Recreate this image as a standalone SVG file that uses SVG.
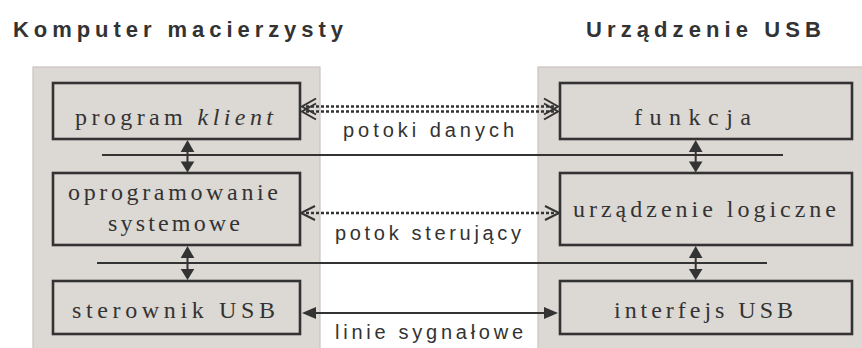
<svg xmlns="http://www.w3.org/2000/svg" width="862" height="348" viewBox="0 0 862 348">
  <style>
    .panel { fill: #dcd8d4; stroke: #cbc4c0; stroke-width: 1.2; }
    .box { fill: #dcd8d4; stroke: #333; stroke-width: 2.6; }
    .title { font-family: "Liberation Sans", Arial, sans-serif; font-weight: bold; font-size: 22px; fill: #333; }
    .lbl { font-family: "Liberation Sans", Arial, sans-serif; font-size: 20px; fill: #333; }
    .txt { font-family: "Liberation Serif", "Times New Roman", serif; font-size: 24px; fill: #333; }
    .bus { stroke: #333; stroke-width: 2; fill: none; }
    .dot { stroke: #333; stroke-width: 2.6; stroke-dasharray: 3 2; fill: none; }
    .chev { stroke: #333; stroke-width: 2; fill: none; }
    .solid { stroke: #333; stroke-width: 2; fill: none; }
    .head { fill: #333; }
  </style>

  <!-- host and device backgrounds -->
  <rect class="panel" x="33" y="67" width="287" height="290"/>
  <rect class="panel" x="538" y="67" width="330" height="290"/>

  <text class="title" x="13" y="37" textLength="330" lengthAdjust="spacing">Komputer macierzysty</text>
  <text class="title" x="586" y="37" textLength="235" lengthAdjust="spacing">Urządzenie USB</text>

  <!-- layer separators -->
  <g id="buses">
    <line class="bus" x1="102" y1="155" x2="783" y2="155"/>
    <line class="bus" x1="97" y1="263" x2="767" y2="263"/>
  </g>

  <!-- host side -->
  <g id="program-klient">
    <rect class="box" x="53" y="83" width="247" height="56"/>
    <text class="txt" x="75" y="125" textLength="198" lengthAdjust="spacing">program <tspan font-style="italic">klient</tspan></text>
  </g>
  <g id="oprogramowanie-systemowe">
    <rect class="box" x="53" y="173" width="247" height="72"/>
    <text class="txt" x="68" y="200" textLength="210" lengthAdjust="spacing">oprogramowanie</text>
    <text class="txt" x="108" y="231" textLength="132" lengthAdjust="spacing">systemowe</text>
  </g>
  <g id="sterownik-usb">
    <rect class="box" x="53" y="281" width="247" height="53"/>
    <text class="txt" x="72" y="318" textLength="203" lengthAdjust="spacing">sterownik USB</text>
  </g>

  <!-- device side -->
  <g id="funkcja">
    <rect class="box" x="560" y="83" width="292" height="56"/>
    <text class="txt" x="634" y="125" textLength="117" lengthAdjust="spacing">funkcja</text>
  </g>
  <g id="urzadzenie-logiczne">
    <rect class="box" x="560" y="173" width="292" height="72"/>
    <text class="txt" x="573" y="217" textLength="263" lengthAdjust="spacing">urządzenie logiczne</text>
  </g>
  <g id="interfejs-usb">
    <rect class="box" x="560" y="281" width="292" height="53"/>
    <text class="txt" x="614" y="318" textLength="179" lengthAdjust="spacing">interfejs USB</text>
  </g>

  <g id="connectors">
    <!-- data pipes (double dotted) -->
    <line class="dot" x1="306" y1="106.5" x2="556" y2="106.5"/>
    <line class="dot" x1="306" y1="111.5" x2="556" y2="111.5"/>
    <polyline class="chev" points="316,98.5 302,106.5 316,114.5"/>
    <polyline class="chev" points="316,103.5 302,111.5 316,119.5"/>
    <polyline class="chev" points="544,98.5 558,106.5 544,114.5"/>
    <polyline class="chev" points="544,103.5 558,111.5 544,119.5"/>

    <!-- control pipe -->
    <line class="dot" x1="306" y1="213" x2="556" y2="213"/>
    <polyline class="chev" points="315,206 301,213 315,220"/>
    <polyline class="chev" points="545,206 559,213 545,220"/>

    <!-- signal lines -->
    <line class="solid" x1="312" y1="313" x2="548" y2="313"/>
    <polygon class="head" points="302,313 316,307 316,319"/>
    <polygon class="head" points="558,313 544,307 544,319"/>

    <!-- vertical layer links -->
    <line class="solid" x1="187.5" y1="145" x2="187.5" y2="167"/>
    <polygon class="head" points="187.5,140 180.7,152 194.3,152"/>
    <polygon class="head" points="187.5,172.5 180.7,161.5 194.3,161.5"/>
    <line class="solid" x1="187.5" y1="250" x2="187.5" y2="275"/>
    <polygon class="head" points="187.5,246 180.7,258 194.3,258"/>
    <polygon class="head" points="187.5,280 180.7,269 194.3,269"/>

    <line class="solid" x1="695.7" y1="145" x2="695.7" y2="167"/>
    <polygon class="head" points="695.7,140 688.9,152 702.5,152"/>
    <polygon class="head" points="695.7,172.5 688.9,161.5 702.5,161.5"/>
    <line class="solid" x1="695.7" y1="250" x2="695.7" y2="275"/>
    <polygon class="head" points="695.7,246 688.9,258 702.5,258"/>
    <polygon class="head" points="695.7,280 688.9,269 702.5,269"/>
  </g>

  <text class="lbl" x="343" y="137" textLength="171" lengthAdjust="spacing">potoki danych</text>
  <text class="lbl" x="335" y="240" textLength="186" lengthAdjust="spacing">potok sterujący</text>
  <text class="lbl" x="335" y="339" textLength="188" lengthAdjust="spacing">linie sygnałowe</text>
</svg>
